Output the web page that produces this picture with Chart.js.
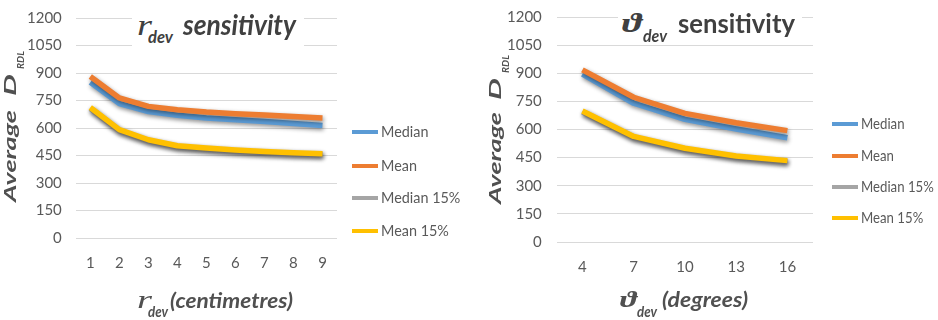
<!DOCTYPE html>
<html><head><meta charset="utf-8">
<script src="https://cdn.jsdelivr.net/npm/chart.js@4/dist/chart.umd.min.js"></script>
<style>
html,body{margin:0;padding:0;background:#fff;}
body{width:938px;height:320px;overflow:hidden;position:relative;font-family:Lato,sans-serif;}
.cw{position:absolute;top:0;height:320px;}
.box{position:absolute;background:#fff;}
.leg{position:absolute;font:15px Lato,sans-serif;color:#595959;white-space:nowrap;line-height:1;}
.leg i{position:absolute;width:26px;height:4px;}
.leg span{position:absolute;left:29px;top:0;transform-origin:0 0;}
</style></head><body>
<div class="cw" style="left:0;width:469px"><canvas id="c1"></canvas></div>
<div class="cw" style="left:469px;width:469px"><canvas id="c2"></canvas></div>
<div class="box" style="left:132px;top:8px;width:172px;height:40px"></div>
<div class="box" style="left:618px;top:7px;width:184px;height:34px"></div>
<script>
// ---- data ----
const seriesNames = ['Median', 'Mean', 'Median 15%', 'Mean 15%'];
const rdevCategories = ['1','2','3','4','5','6','7','8','9'];
const rdevMedian   = [849, 733, 690, 670, 655, 645, 635, 625, 614];
const rdevMean     = [881, 764, 718, 700, 687, 678, 671, 663, 655];
const rdevMedian15 = [706, 584, 530, 498, 486, 475, 467, 460, 455];
const rdevMean15   = [712, 591, 536, 503, 491, 480, 472, 465, 460];
const thetaCategories = ['4','7','10','13','16'];
const thetaMedian   = [896, 740, 654, 603, 556];
const thetaMean     = [918, 772, 686, 636, 594];
const thetaMedian15 = [693, 557, 494, 453, 428];
const thetaMean15   = [699, 563, 500, 459, 434];
const yTicks = [0,150,300,450,600,750,900,1050,1200];

const colors = ['#5B9BD5', '#ED7D31', '#A5A5A5', '#FFC000'];
const TXT = '#595959';

const shadowPlugin = {
  id: 'lineShadow',
  beforeDatasetDraw(chart) {
    const c = chart.ctx; c.save();
    c.shadowColor = 'rgba(0,0,0,0.45)'; c.shadowBlur = 4; c.shadowOffsetX = 1; c.shadowOffsetY = 2;
  },
  afterDatasetDraw(chart) { chart.ctx.restore(); }
};

function makeChart(id, cats, series, lay) {
  const datasets = series.map((d, i) => ({
    label: seriesNames[i], data: d,
    borderColor: colors[i], backgroundColor: colors[i],
    borderWidth: 5.5, pointRadius: 0, tension: 0,
    borderJoinStyle: 'round', order: 3 - i
  }));
  return new Chart(document.getElementById(id), {
    type: 'line',
    data: { labels: cats, datasets },
    options: {
      responsive: true, maintainAspectRatio: false, animation: false,
      devicePixelRatio: 1,
      layout: { padding: lay.pad },
      plugins: {
        tooltip: { enabled: false },
        title: { display: false },
        legend: { display: false }
      },
      scales: {
        x: {
          offset: true,
          grid: { display: false, drawTicks: false },
          border: { display: false },
          ticks: { color: TXT, font: { family: 'Lato', size: 15 }, padding: lay.xPad, maxRotation: 0 }
        },
        y: {
          min: 0, max: 1200,
          afterBuildTicks: (ax) => { ax.ticks = yTicks.map(v => ({ value: v })); },
          grid: { color: '#D9D9D9', lineWidth: 1, drawTicks: true, tickLength: lay.yTick, tickColor: 'rgba(0,0,0,0)' },
          border: { display: false },
          ticks: { color: TXT, font: { family: 'Lato', size: 15 }, padding: 3,
                   callback: (v) => String(v) }
        }
      }
    },
    plugins: [shadowPlugin]
  });
}

const ch1 = makeChart('c1', rdevCategories, [rdevMedian, rdevMean, rdevMedian15, rdevMean15],
  { pad: { left: 24, right: 132, top: 18, bottom: 32 }, xPad: 16, yTick: 11 });
const ch2 = makeChart('c2', thetaCategories, [thetaMedian, thetaMean, thetaMedian15, thetaMean15],
  { pad: { left: 35, right: 125, top: 17, bottom: 28 }, xPad: 16, yTick: 12 });

// ---- legends (HTML) ----
function legend(x, ys, sx) {
  seriesNames.forEach((n, i) => {
    const d = document.createElement('div');
    d.className = 'leg';
    d.style.left = x + 'px'; d.style.top = (ys[i] - 8) + 'px';
    d.innerHTML = '<i style="left:0;top:6px;background:' + colors[i] + '"></i><span style="transform:scaleX(' + sx + ')">' + n + '</span>';
    document.body.appendChild(d);
  });
}
legend(352, [132, 166, 198, 231], 0.96);
legend(832, [124, 156, 187, 218], 0.88);

// ---- text overlay helper ----
const mc = document.createElement('canvas').getContext('2d');
function txt(p) {
  const fam = p.f || 'Lato';
  const e = document.createElement('span');
  e.textContent = p.t;
  const style = (p.i ? 'italic ' : '') + (p.w || 'bold') + ' ' + p.s + 'px ' + fam;
  e.style.cssText = 'position:absolute;white-space:nowrap;transform-origin:0 0;z-index:5;' +
    'font:' + style + ';line-height:1;color:' + (p.c || '#404040') + ';';
  document.body.appendChild(e);
  mc.font = style;
  const m = mc.measureText(p.t);
  const A = m.fontBoundingBoxAscent / p.s, D = m.fontBoundingBoxDescent / p.s;
  const asc = ((1 - (A + D)) / 2 + A) * p.s;
  const w = e.getBoundingClientRect().width;
  const sx = p.len ? p.len / w : 1;
  if (!p.rot) {
    e.style.left = p.x + 'px'; e.style.top = (p.y - asc) + 'px';
    e.style.transform = 'scaleX(' + sx + ')';
  } else {
    e.style.left = (p.x - asc) + 'px'; e.style.top = p.y + 'px';
    e.style.transform = 'rotate(-90deg) scaleX(' + sx + ')';
  }
}
const SERIF = "'Liberation Serif', 'DejaVu Serif', serif";
// chart titles
txt({ t: 'r', f: SERIF, s: 30, w: 'normal', i: true, x: 137, y: 35, len: 15 });
txt({ t: 'dev', s: 17, i: true, x: 148, y: 43, len: 25 });
txt({ t: 'sensitivity', s: 29, i: true, x: 183, y: 35, len: 113 });
txt({ t: 'ϑ', f: SERIF, s: 28, i: true, x: 622, y: 32, len: 20 });
txt({ t: 'dev', s: 17, i: true, x: 643, y: 42, len: 24 });
txt({ t: 'sensitivity', s: 26, x: 678, y: 33, len: 117 });
// x axis titles
txt({ t: 'r', f: SERIF, s: 26, w: 'normal', i: true, x: 137, y: 308, len: 15, c: '#505050' });
txt({ t: 'dev', s: 16, i: true, x: 148, y: 317, len: 20, c: '#505050' });
txt({ t: '(centimetres)', s: 21, i: true, x: 170, y: 308, len: 123, c: '#505050' });
txt({ t: 'ϑ', f: SERIF, s: 24, i: true, x: 620, y: 307, len: 17, c: '#505050' });
txt({ t: 'dev', s: 16, i: true, x: 637, y: 317, len: 20, c: '#505050' });
txt({ t: '(degrees)', s: 21, i: true, x: 662, y: 307, len: 86, c: '#505050' });
// y axis titles (rotated)
txt({ t: 'Average', s: 17, i: true, x: 16, y: 202, len: 92, rot: true, c: '#505050' });
txt({ t: 'D', s: 17, i: true, x: 16, y: 96, len: 22, rot: true, c: '#505050' });
txt({ t: 'RDL', s: 10, i: true, x: 24, y: 69, len: 18, rot: true, c: '#505050' });
txt({ t: 'Average', s: 17, i: true, x: 501, y: 204, len: 92, rot: true, c: '#505050' });
txt({ t: 'D', s: 17, i: true, x: 501, y: 100, len: 22, rot: true, c: '#505050' });
txt({ t: 'RDL', s: 10, i: true, x: 509, y: 73, len: 18, rot: true, c: '#505050' });
</script>
</body></html>
